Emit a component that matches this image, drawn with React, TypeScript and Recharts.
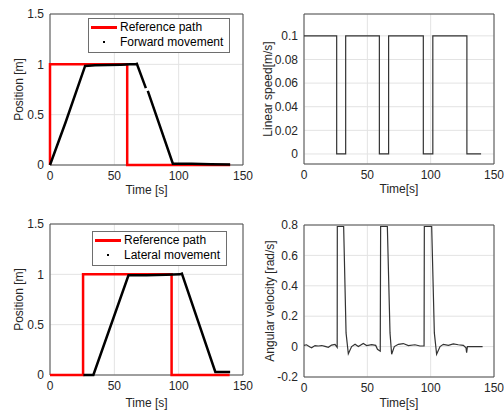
import { LineChart, Line, XAxis, YAxis, CartesianGrid, ReferenceArea, Legend } from "recharts";

const FONT = '"Liberation Sans", Arial, Helvetica, sans-serif';
const TEXT = "#262626";

const timeTicks = [0, 50, 100, 150];
const posTicks = [0, 0.5, 1, 1.5];
const speedTicks = [0, 0.02, 0.04, 0.06, 0.08, 0.1];
const angTicks = [-0.2, 0, 0.2, 0.4, 0.6, 0.8];

// forward movement (top left)
const fwdRefTime = [0, 0, 60, 60, 140];
const fwdRefPos = [0, 1, 1, 0, 0];
const fwdTime = [0, 12, 27.3, 35, 45, 55, 62, 66.2, 67.5, 74.5, 75.2, 76, 95.5, 110, 125, 140];
const fwdPos = [0, 0.42, 0.984, 0.99, 0.993, 0.997, 1.0, 1.0, 1.005, 0.763, null, 0.737, 0.013, 0.012, 0.007, 0.004];

// lateral movement (bottom left)
const latRefTime = [0, 25.7, 25.7, 94.5, 94.5, 139.6];
const latRefPos = [0, 0, 1, 1, 0, 0];
const latTime = [26, 33.7, 61, 75, 90, 101, 102.5, 128.5, 140];
const latPos = [0, 0, 0.99, 0.99, 0.995, 1.0, 1.007, 0.03, 0.03];

// linear speed (top right), step changes
const speedTime = [0, 25.8, 32.9, 59.5, 66.8, 94.2, 101.7, 128.6, 139.8];
const speedVal = [0.1, 0, 0.1, 0, 0.1, 0, 0.1, 0, 0];

// angular velocity (bottom right)
const angTime = [
  0, 2, 4.7, 6, 8.7, 11.3, 14, 16.6, 19.2, 21.8, 24.5, 26.2, 26.3, 31.3, 33.2, 35, 37.6, 40.3, 42.9, 46.8,
  49.5, 53.4, 56.6, 58, 60.2, 60.5, 65.8, 67.9, 69.2, 71.3, 74.5, 78.4, 82.4, 87.6, 91.6, 94.8, 95,
  100.8, 102.9, 104.7, 107.4, 110, 114, 117.9, 121.8, 125.8, 127.9, 128.4, 129, 141,
];
const angVal = [
  0.008, 0.012, -0.002, -0.008, 0.007, 0.004, 0.007, 0.001, -0.005, 0.01, 0.015, -0.005, 0.79, 0.79, 0.09, -0.047, 0, 0.015, 0, 0.02,
  0.007, 0.013, 0.008, -0.018, -0.03, 0.79, 0.79, 0.09, -0.05, 0, 0.015, 0.02, 0.007, 0.012, 0.004, 0.004, 0.79,
  0.79, 0.09, -0.05, 0, 0.015, 0.008, 0.018, 0.012, 0.008, -0.008, -0.04, 0, 0,
];

const toRows = (ts: number[], vs: (number | null)[]) => ts.map((t, i) => ({ t, v: vs[i] }));

type Item = { value?: string; color?: string; type?: string };

function BoxLegend({ payload }: { payload?: Item[] }) {
  // reference path first, as in the original figure
  const items = [...(payload ?? [])].sort((a, b) => (a.type === "line" ? 0 : 1) - (b.type === "line" ? 0 : 1));
  return (
    <div
      style={{
        border: "1px solid #6e6e6e",
        background: "#fff",
        padding: "1px 6px 2px 2px",
        fontFamily: FONT,
        fontSize: 12,
        color: "#000",
        lineHeight: "15px",
        whiteSpace: "nowrap",
      }}
    >
      {items.map((p) => (
        <div key={p.value} style={{ display: "flex", alignItems: "center" }}>
          <span style={{ width: 26, height: 15, marginRight: 3, position: "relative", display: "inline-block" }}>
            {p.type === "line" ? (
              <span style={{ position: "absolute", left: 0, top: 6, width: 26, height: 2.5, background: p.color }} />
            ) : (
              <span style={{ position: "absolute", left: 12, top: 6, width: 2, height: 2, background: p.color }} />
            )}
          </span>
          {p.value}
        </div>
      ))}
    </div>
  );
}

type PanelProps = {
  left: number;
  top: number;
  width: number;
  height: number;
  margin: { top: number; right: number; bottom: number; left: number };
  yWidth: number;
  xHeight: number;
  yDomain: [number, number];
  yTicks: number[];
  yLabel: string;
  yLabelOffset: number;
  xLabel: string;
  xLabelOffset: number;
  legendPos?: { left: number; top: number };
  children: React.ReactNode;
};

function Panel(p: PanelProps) {
  const tick = { fill: TEXT, fontSize: 12, fontFamily: FONT };
  return (
    <div style={{ position: "absolute", left: p.left, top: p.top }}>
      <LineChart width={p.width} height={p.height} margin={p.margin}>
        <CartesianGrid stroke="#e3e3e3" />
        <XAxis
          dataKey="t"
          type="number"
          domain={[0, 150]}
          ticks={timeTicks}
          height={p.xHeight}
          axisLine={false}
          tickLine={false}
          tickSize={5}
          tickMargin={1}
          tick={tick}
          allowDuplicatedCategory={false}
          label={{ value: p.xLabel, position: "insideBottom", offset: p.xLabelOffset, fill: TEXT, fontSize: 12, fontFamily: FONT }}
        />
        <YAxis
          type="number"
          domain={p.yDomain}
          ticks={p.yTicks}
          width={p.yWidth}
          axisLine={false}
          tickLine={false}
          tickSize={5}
          tickMargin={1}
          tick={tick}
          label={{
            value: p.yLabel,
            angle: -90,
            position: "insideLeft",
            offset: p.yLabelOffset,
            fill: TEXT,
            fontSize: 12,
            fontFamily: FONT,
            style: { textAnchor: "middle" },
          }}
        />
        <ReferenceArea x1={0} x2={150} y1={p.yDomain[0]} y2={p.yDomain[1]} fill="none" stroke="#4d4d4d" strokeWidth={1} />
        {p.children}
        {p.legendPos && (
          <Legend
            layout="vertical"
            align="center"
            verticalAlign="middle"
            wrapperStyle={{ left: p.legendPos.left, top: p.legendPos.top, width: "auto" }}
            content={(props: any) => <BoxLegend payload={props.payload} />}
          />
        )}
      </LineChart>
    </div>
  );
}

export default function App() {
  return (
    <div style={{ position: "absolute", left: 0, top: 0, width: 504, height: 411, background: "#fff", overflow: "hidden" }}>
      <Panel
        left={0}
        top={0}
        width={264}
        height={205}
        margin={{ top: 14, right: 21, bottom: 0, left: 0 }}
        yWidth={50}
        xHeight={40}
        yDomain={[0, 1.5]}
        yTicks={posTicks}
        yLabel="Position [m]"
        yLabelOffset={19}
        xLabel="Time [s]"
        xLabelOffset={11}
        legendPos={{ left: 88, top: 18 }}
      >
        <Line data={toRows(fwdRefTime, fwdRefPos)} dataKey="v" name="Reference path" stroke="#ff0000" strokeWidth={2.5} dot={false} legendType="line" isAnimationActive={false} />
        <Line data={toRows(fwdTime, fwdPos)} dataKey="v" name="Forward movement" stroke="#000" strokeWidth={2.5} dot={false} legendType="circle" connectNulls={false} isAnimationActive={false} />
      </Panel>

      <Panel
        left={252}
        top={0}
        width={252}
        height={205}
        margin={{ top: 14, right: 10, bottom: 0, left: 0 }}
        yWidth={52}
        xHeight={41}
        yDomain={[-0.0085, 0.1185]}
        yTicks={speedTicks}
        yLabel="Linear speed[m/s]"
        yLabelOffset={16}
        xLabel="Time[s]"
        xLabelOffset={12}
      >
        <Line data={toRows(speedTime, speedVal)} dataKey="v" name="Linear speed" type="stepAfter" stroke="#333" strokeWidth={1.2} dot={false} isAnimationActive={false} />
      </Panel>

      <Panel
        left={0}
        top={205}
        width={264}
        height={206}
        margin={{ top: 19, right: 21, bottom: 0, left: 0 }}
        yWidth={50}
        xHeight={36}
        yDomain={[0, 1.5]}
        yTicks={posTicks}
        yLabel="Position [m]"
        yLabelOffset={19}
        xLabel="Time [s]"
        xLabelOffset={4}
        legendPos={{ left: 92, top: 26 }}
      >
        <Line data={toRows(latRefTime, latRefPos)} dataKey="v" name="Reference path" stroke="#ff0000" strokeWidth={2.5} dot={false} legendType="line" isAnimationActive={false} />
        <Line data={toRows(latTime, latPos)} dataKey="v" name="Lateral movement" stroke="#000" strokeWidth={2.5} dot={false} legendType="circle" isAnimationActive={false} />
      </Panel>

      <Panel
        left={252}
        top={205}
        width={252}
        height={206}
        margin={{ top: 20, right: 10, bottom: 0, left: 0 }}
        yWidth={52}
        xHeight={34}
        yDomain={[-0.2, 0.8]}
        yTicks={angTicks}
        yLabel="Angular velocity [rad/s]"
        yLabelOffset={18}
        xLabel="Time[s]"
        xLabelOffset={4}
      >
        <Line data={toRows(angTime, angVal)} dataKey="v" name="Angular velocity" stroke="#333" strokeWidth={1.2} dot={false} isAnimationActive={false} />
      </Panel>
    </div>
  );
}
